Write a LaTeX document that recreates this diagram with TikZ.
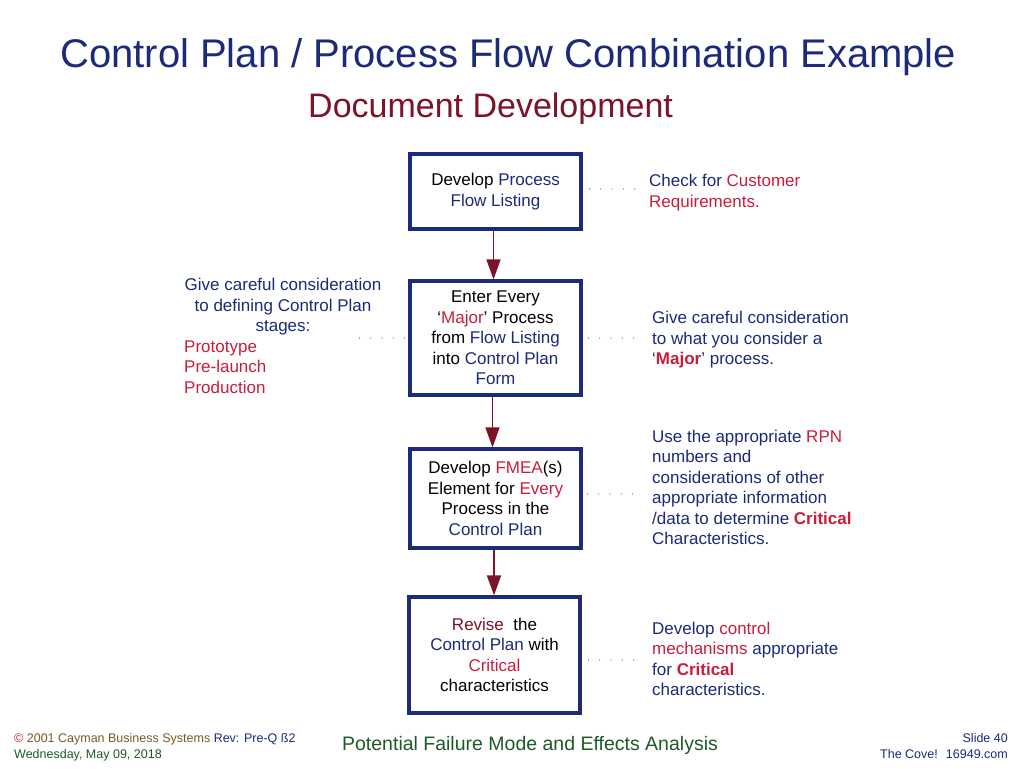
\documentclass[tikz,border=0pt]{standalone}
\usepackage{fontspec}
\setmainfont{Liberation Sans}
\usetikzlibrary{arrows.meta}
\definecolor{navy}{RGB}{28,42,120}
\definecolor{crim}{RGB}{200,30,60}
\definecolor{dred}{RGB}{125,18,40}
\definecolor{olive}{RGB}{120,90,40}
\definecolor{dgreen}{RGB}{30,90,40}
\newcommand{\nv}[1]{\textcolor{navy}{#1}}
\newcommand{\rd}[1]{\textcolor{crim}{#1}}
\tikzset{
  flowbox/.style={draw=navy, line width=3.2pt, minimum width=171pt, align=center, inner sep=0pt,
     font=\fontsize{17}{20.5}\selectfont, text=black},
  side/.style={align=left, inner sep=0pt, font=\fontsize{17}{20.5}\selectfont, text=navy},
  flowarrow/.style={draw=dred, line width=1.6pt, -{Triangle[length=20pt,width=14pt]}},
  dots/.style={draw=gray!80!black, line width=1.3pt, line cap=round, dash pattern=on 0pt off 11.2pt}
}
\begin{document}
\begin{tikzpicture}[x=1pt,y=-1pt]
\useasboundingbox[fill=white] (0,0) rectangle (1024,768);

% titles
\node[anchor=base west, inner sep=0pt, text=navy, font=\fontsize{40}{44}\selectfont] (title) at (60,67) {Control Plan / Process Flow Combination Example};
\node[anchor=base west, inner sep=0pt, text=dred, font=\fontsize{34}{38}\selectfont] (sub) at (308,117) {Document Development};

% boxes
\node[flowbox, minimum height=75pt] (b1) at (495.5,191.5) {Develop \nv{Process}\\\nv{Flow Listing}};
\node[flowbox, minimum height=114pt] (b2) at (495.5,338) {Enter Every\\`\rd{Major}' Process\\from \nv{Flow Listing}\\into \nv{Control Plan}\\\nv{Form}};
\node[flowbox, minimum height=99pt] (b3) at (495.5,498.5) {Develop \rd{FMEA}(s)\\Element for \rd{Every}\\Process in the\\\nv{Control Plan}};
\node[flowbox, minimum height=116pt] (b4) at (494.5,655) {\textcolor{dred}{Revise} \ the\\\nv{Control Plan} with\\\rd{Critical}\\characteristics};

% arrows
\draw[flowarrow] ([xshift=-2pt]b1.south) -- ([xshift=-2pt]b1.south |- b2.north);
\draw[flowarrow] ([xshift=-3pt]b2.south) -- ([xshift=-3pt]b2.south |- b3.north);
\draw[flowarrow] ([xshift=-1.5pt]b3.south) -- ([xshift=-1.5pt]b3.south |- b4.north);

% right notes
\node[side, anchor=west] (r1) at (649,192.5) {Check for \rd{Customer}\\\rd{Requirements.}};
\node[side, anchor=west] (r2) at (652,340) {Give careful consideration\\to what you consider a\\`\textbf{\rd{Major}}' process.};
\node[side, anchor=west] (r3) at (652,487.5) {Use the appropriate \rd{RPN}\\numbers and\\considerations of other\\appropriate information\\/data to determine \textbf{\rd{Critical}}\\Characteristics.};
\node[side, anchor=west] (r4) at (652,659) {Develop \rd{control}\\\rd{mechanisms} appropriate\\for \textbf{\rd{Critical}}\\characteristics.};

% left note
\node[side, align=center] (l1) at (283,307) {Give careful consideration\\to defining Control Plan\\stages:};
\node[side, anchor=west, text=crim] (l2) at (184,367) {Prototype\\Pre-launch\\Production};

% dotted connectors
\draw[dots] ([xshift=7pt,yshift=2.5pt]b1.east) -- ++(45.5pt,0) coordinate (d1);
\draw[dots] ([xshift=6pt]b2.east) -- ++(45.5pt,0) coordinate (d2);
\draw[dots] ([xshift=5pt,yshift=4.5pt]b3.east) -- ++(45.5pt,0) coordinate (d3);
\draw[dots] ([xshift=7pt,yshift=-5pt]b4.east) -- ++(45.5pt,0) coordinate (d4);
\draw[dots] ([xshift=-4pt]b2.west) -- ++(-45.5pt,0) coordinate (d5);

% footer
\node[anchor=base west, inner sep=0pt, font=\fontsize{12.5}{15}\selectfont] (f1) at (14,742) {\rd{©} \textcolor{olive}{2001 Cayman Business Systems} \nv{Rev: Pre-Q ß2}};
\node[anchor=base west, inner sep=0pt, font=\fontsize{12.5}{15}\selectfont, text=dgreen] (f2) at (14,758) {Wednesday, May 09, 2018};
\node[anchor=base, inner sep=0pt, font=\fontsize{19.5}{22}\selectfont, text=dgreen] (f3) at (530,750) {Potential Failure Mode and Effects Analysis};
\node[anchor=base east, inner sep=0pt, font=\fontsize{12.5}{15}\selectfont, text=navy] (f4) at (1008,742) {Slide 40};
\node[anchor=base east, inner sep=0pt, font=\fontsize{12.5}{15}\selectfont, text=navy] (f5) at (1008,758) {The Cove! \ 16949.com};
\end{tikzpicture}
\end{document}
